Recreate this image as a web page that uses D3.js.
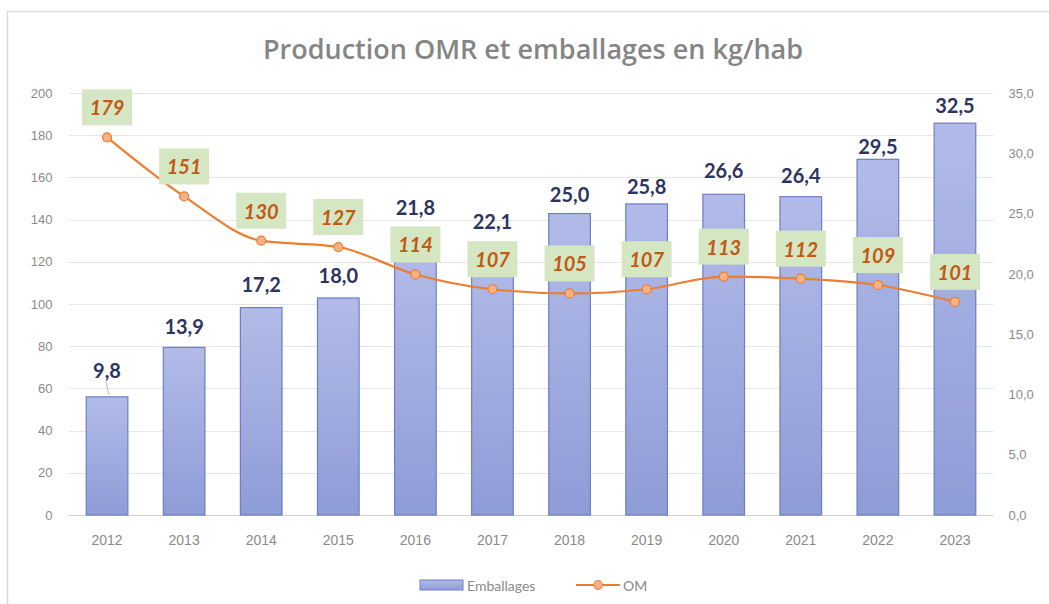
<!DOCTYPE html>
<html><head><meta charset="utf-8">
<script src="https://cdn.jsdelivr.net/npm/d3@7"></script>
<style>
html,body{margin:0;padding:0;background:#fff;}
svg{display:block;font-family:"Lato","Open Sans",sans-serif;}
</style></head>
<body>
<svg id="chart" width="1049" height="604"></svg>
<script>
const years = ["2012","2013","2014","2015","2016","2017","2018","2019","2020","2021","2022","2023"];
const emballages = [9.8,13.9,17.2,18.0,21.8,22.1,25.0,25.8,26.6,26.4,29.5,32.5];
const om = [179,151,130,127,114,107,105,107,113,112,109,101];
const leftTicks = [0,20,40,60,80,100,120,140,160,180,200];
const rightTicks = [0,5,10,15,20,25,30,35];
const title = "Production OMR et emballages en kg/hab";
const seriesNames = ["Emballages","OM"];
// label placement (style): lift of bar labels above bar top, px
const barLabelLift = [27,21,24,23,45,28,20,18,24,22,13,18];

const svg = d3.select("#chart");
const W = 1049, H = 604;
const m = {left:68.5, right:1049-993.5, top:93, bottom:604-515};

// frame
svg.append("rect").attr("x",7.5).attr("y",11.5).attr("width",1100).attr("height",700)
  .attr("fill","#fff").attr("stroke","#dcdcdc").attr("stroke-width",1.5);

const defs = svg.append("defs");
const grad = defs.append("linearGradient").attr("id","barGrad").attr("x1",0).attr("y1",0).attr("x2",0).attr("y2",1);
grad.append("stop").attr("offset","0%").attr("stop-color","#b2bbe8");
grad.append("stop").attr("offset","100%").attr("stop-color","#8e9cd7");

const x = d3.scaleBand().domain(years).range([m.left, W-m.right]).paddingInner(0.46).paddingOuter(0.23);
const yL = d3.scaleLinear().domain([0,200]).range([H-m.bottom, m.top]);
const yR = d3.scaleLinear().domain([0,35]).range([H-m.bottom, m.top]);

// gridlines
svg.append("g").selectAll("line").data(leftTicks).join("line")
  .attr("x1",m.left).attr("x2",W-m.right)
  .attr("y1",d=>Math.round(yL(d))+0.5).attr("y2",d=>Math.round(yL(d))+0.5)
  .attr("stroke",d=>d===0?"#d0d0d0":"#e6e6e6").attr("stroke-width",1);

// left axis
const axL = svg.append("g").attr("transform",`translate(${m.left},0)`)
  .call(d3.axisLeft(yL).tickValues(leftTicks).tickSize(0).tickPadding(16).tickFormat(d3.format("d")));
axL.select(".domain").remove();
axL.selectAll("text").attr("fill","#8a8a8a").style("font-size","13px");

// right axis
const fmtR = d => d.toFixed(1).replace(".",",");
const axR = svg.append("g").attr("transform",`translate(${W-m.right},0)`)
  .call(d3.axisRight(yR).tickValues(rightTicks).tickSize(0).tickPadding(15).tickFormat(fmtR));
axR.select(".domain").remove();
axR.selectAll("text").attr("fill","#8a8a8a").style("font-size","13px");

// x axis
const axX = svg.append("g").attr("transform",`translate(0,${H-m.bottom})`)
  .call(d3.axisBottom(x).tickSize(0).tickPadding(20));
axX.select(".domain").remove();
axX.selectAll("text").attr("fill","#8a8a8a").style("font-size","14px");

// bars
svg.append("g").selectAll("rect").data(emballages).join("rect")
  .attr("x",(d,i)=>x(years[i])).attr("width",x.bandwidth())
  .attr("y",d=>yR(d)).attr("height",d=>yR(0)-yR(d))
  .attr("fill","url(#barGrad)").attr("stroke","#6e7ec4").attr("stroke-width",1.2);

// leader line for first label
svg.append("line")
  .attr("x1",x(years[0])+x.bandwidth()/2+2).attr("x2",x(years[0])+x.bandwidth()/2-1)
  .attr("y1",yR(emballages[0])-2).attr("y2",yR(emballages[0])-barLabelLift[0]+12)
  .attr("stroke","#bbb").attr("stroke-width",1);

// bar labels
svg.append("g").selectAll("text").data(emballages).join("text")
  .attr("x",(d,i)=>x(years[i])+x.bandwidth()/2)
  .attr("y",(d,i)=>yR(d)-barLabelLift[i])
  .attr("text-anchor","middle").attr("dominant-baseline","central")
  .attr("fill","#2d3461").style("font-size","20px").style("font-weight","700")
  .text(d=>d.toFixed(1).replace(".",","));

// line
const cx = i => x(years[i])+x.bandwidth()/2;
const line = d3.line().x((d,i)=>cx(i)).y(d=>yL(d)).curve(d3.curveMonotoneX);
svg.append("path").datum(om).attr("d",line).attr("fill","none")
  .attr("stroke","#ed7d31").attr("stroke-width",2.2);
svg.append("g").selectAll("circle").data(om).join("circle")
  .attr("cx",(d,i)=>cx(i)).attr("cy",d=>yL(d)).attr("r",4.5)
  .attr("fill","#f5b183").attr("stroke","#ed7d31").attr("stroke-width",1.2);

// OM labels
const omG = svg.append("g").selectAll("g").data(om).join("g")
  .attr("transform",(d,i)=>`translate(${cx(i)},${yL(d)-30})`);
omG.append("rect").attr("x",-25).attr("y",-18).attr("width",50).attr("height",36)
  .attr("fill","#d4e6c2");
omG.append("text").attr("text-anchor","middle").attr("dominant-baseline","central")
  .attr("fill","#c25915").style("font-size","20px").style("font-weight","700").style("font-style","italic")
  .text(d=>d);

// title
const t = svg.append("text").attr("x",533).attr("y",48).attr("text-anchor","middle")
  .attr("dominant-baseline","central").attr("fill","#858585")
  .style("font-family","'Open Sans',sans-serif")
  .style("font-size","24px").style("font-weight","600").text(title);
const tw = t.node().getComputedTextLength();
t.style("font-size",(24*540/tw).toFixed(2)+"px");

// legend
const lg = svg.append("g");
lg.append("rect").attr("x",420).attr("y",580).attr("width",43).attr("height",10)
  .attr("fill","url(#barGrad)").attr("stroke","#6e7ec4");
lg.append("text").attr("x",467).attr("y",585).attr("dominant-baseline","central")
  .attr("fill","#8a8a8a").style("font-size","14px").text(seriesNames[0]);
lg.append("line").attr("x1",576).attr("x2",620).attr("y1",585).attr("y2",585)
  .attr("stroke","#ed7d31").attr("stroke-width",2.2);
lg.append("circle").attr("cx",598).attr("cy",585).attr("r",4.5)
  .attr("fill","#f5b183").attr("stroke","#ed7d31");
lg.append("text").attr("x",623).attr("y",585).attr("dominant-baseline","central")
  .attr("fill","#8a8a8a").style("font-size","14px").text(seriesNames[1]);
</script>
</body></html>
